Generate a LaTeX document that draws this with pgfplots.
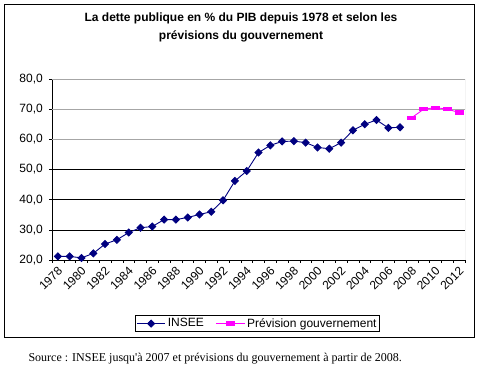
\documentclass[border=0pt]{standalone}
\usepackage{fontspec}
\setmainfont{Liberation Sans}
\newfontfamily\serif{Liberation Serif}
\usepackage{pgfplots}
\pgfplotsset{compat=1.18}
\definecolor{insee}{RGB}{0,0,128}
\definecolor{prev}{RGB}{255,0,255}
\begin{document}
\begin{tikzpicture}
\path[use as bounding box] (0pt,0pt) rectangle (482pt,-371pt);
\draw[black, line width=0.8pt] (4pt,-4pt) rectangle (474.5pt,-337pt);
\node[anchor=base, font=\bfseries\fontsize{12}{14}\selectfont] at (241pt,-21.7pt) {La dette publique en \% du PIB depuis 1978 et selon les};
\node[anchor=base, font=\bfseries\fontsize{12}{14}\selectfont] at (241pt,-39.2pt) {prévisions du gouvernement};
\begin{axis}[
  at={(52pt,-260pt)}, anchor=south west,
  scale only axis, width=413pt, height=181pt,
  xmin=1977.5, xmax=2012.5, ymin=20, ymax=80,
  axis x line*=bottom, axis y line*=left,
  axis line style={-, black, line width=0.6pt},
  tick align=outside,
  /pgf/number format/assume math mode=true,
  xtick={1978,1980,...,2012},
  major x tick style={draw=none},
  minor xtick={1977.5,1978.5,...,2012.5},
  minor tick length=3pt,
  minor x tick style={black, line width=0.5pt},
  xticklabel style={rotate=45, anchor=north east, font=\fontsize{12}{14}\selectfont, /pgf/number format/1000 sep={}, inner sep=0.5pt, xshift=-2pt, yshift=-1pt},
  ytick={20,30,40,50},
  extra y ticks={60,70,80},
  extra y tick style={grid style={gray!70, line width=0.6pt}},
  major tick length=3pt,
  y tick style={black, line width=0.5pt},
  yticklabel={\pgfmathprintnumber[fixed,fixed zerofill,precision=1,use comma]{\tick}},
  yticklabel style={font=\fontsize{12}{14}\selectfont, inner sep=1pt, xshift=-5pt},
  ymajorgrids, grid style={black, line width=0.6pt},
  legend style={at={(0.4976,-0.351)}, anchor=center, legend columns=2, draw=black, line width=0.5pt, font=\fontsize{12}{14}\selectfont, inner sep=1pt, /tikz/every even column/.append style={column sep=10pt}},
  legend cell align=left,
  legend image code/.code={\draw[mark repeat=2,mark phase=2] plot coordinates {(0cm,0cm) (0.5cm,0cm) (1cm,0cm)};},
]
\draw[gray!70, line width=0.8pt] (rel axis cs:0,1) -- (rel axis cs:1,1) -- (rel axis cs:1,0);
\addplot[color=insee, line width=0.9pt, mark=diamond*, mark size=3.5pt, mark options={xscale=1.33, fill=insee}] coordinates {
(1978,21.2) (1979,21.2) (1980,20.7) (1981,22.2) (1982,25.3) (1983,26.7) (1984,29.1) (1985,30.7) (1986,31.1) (1987,33.4)
(1988,33.4) (1989,34.1) (1990,35.1) (1991,36.0) (1992,39.8) (1993,46.2) (1994,49.5) (1995,55.6) (1996,58.0) (1997,59.3)
(1998,59.4) (1999,58.9) (2000,57.3) (2001,56.9) (2002,58.9) (2003,63.0) (2004,65.0) (2005,66.4) (2006,63.8) (2007,64.0)
};
\addlegendentry{INSEE}
\addplot[color=prev, line width=0.9pt, mark=square*, mark size=1.6pt, mark options={xscale=2.5, fill=prev}] coordinates {
(2008,67.2) (2009,70.0) (2010,70.5) (2011,70.0) (2012,68.9)
};
\addlegendentry{Prévision gouvernement}
\end{axis}
\node[anchor=base west, font=\serif\fontsize{12}{14}\selectfont] at (25pt,-362pt) {Source : INSEE jusqu'à 2007 et prévisions du gouvernement à partir de 2008.};
\end{tikzpicture}
\end{document}
